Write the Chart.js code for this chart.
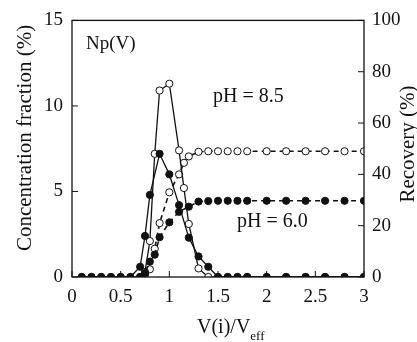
<!DOCTYPE html>
<html>
<head>
<meta charset="utf-8">
<script src="https://cdn.jsdelivr.net/npm/chart.js@4"></script>
<style>
  html, body { margin:0; padding:0; background:#fff; }
  #wrap { width:417px; height:342px; }
</style>
</head>
<body>
<div id="wrap"><canvas id="c"></canvas></div>
<script>
// tick labels
const xTicks = [0, 0.5, 1, 1.5, 2, 2.5, 3];
const concTicks = [0, 5, 10, 15];
const recTicks = [0, 20, 40, 60, 80, 100];

// concentration fraction (%), pH 6.0 (filled circles, solid)
const conc60X = [0.1,0.2,0.3,0.4,0.5,0.6,0.7,0.75,0.8,0.9,1.0,1.1,1.2,1.3,1.4,1.5,1.6,1.7,1.8,2.0,2.2,2.4,2.6,2.8,3.0];
const conc60Y = [0,0,0,0,0,0,0.6,2.4,4.8,7.2,6.0,4.2,2.3,1.2,0.6,0,0,0,0,0,0,0,0,0,0];

// concentration fraction (%), pH 8.5 (open circles, solid)
const conc85X = [0.1,0.2,0.3,0.4,0.5,0.6,0.7,0.75,0.8,0.85,0.9,1.0,1.1,1.15,1.2,1.3,1.4,1.5,1.6,1.7,1.8,2.0,2.2,2.4,2.6,2.8,3.0];
const conc85Y = [0,0,0,0,0,0,0,0.3,2.1,7.2,10.9,11.3,7.4,5.2,3.1,0.5,0,0,0,0,0,0,0,0,0,0,0];

// recovery (%), pH 6.0 (filled circles, dashed)
const rec60X = [0.7,0.75,0.8,0.85,0.9,1.0,1.1,1.2,1.3,1.4,1.5,1.6,1.7,1.8,2.0,2.2,2.4,2.6,2.8,3.0];
const rec60Y = [0,1.5,6,8.7,15.5,21.3,25.4,27.4,29.4,29.6,29.7,29.7,29.7,29.7,29.7,29.7,29.7,29.7,29.7,29.7];

// recovery (%), pH 8.5 (open circles, dashed)
const rec85X = [0.7,0.75,0.8,0.85,0.9,1.0,1.1,1.15,1.2,1.3,1.4,1.5,1.6,1.7,1.8,2.0,2.2,2.4,2.6,2.8,3.0];
const rec85Y = [0,1,3,11,21,33,40,44.5,47,48.8,49,49,49,49,49,49,49,49,49,49,49];

const FONT = '"Liberation Serif", "Times New Roman", serif';
const INK = '#111';

function pts(xs, ys){ return xs.map((x,i)=>({x, y:ys[i]})); }

function series(label, xs, ys, axis, filled, dashed){
  return {
    label,
    data: pts(xs, ys),
    yAxisID: axis,
    borderColor: INK,
    borderWidth: dashed ? 1.6 : 1.3,
    borderDash: dashed ? [5,4] : [],
    pointRadius: 3.6,
    pointBorderWidth: 1,
    pointBackgroundColor: filled ? INK : '#fff',
    pointBorderColor: INK,
    tension: 0,
    fill: false
  };
}

function setTicks(list){
  return function(scale){ scale.ticks = list.map(v=>({value:v})); };
}

// frame, inward tick marks, axis titles and the in-plot labels
const decor = {
  id:'decor',
  afterDraw(chart){
    const {ctx, chartArea:a, scales} = chart;
    ctx.save();
    ctx.strokeStyle = INK;
    ctx.lineWidth = 1.3;
    ctx.strokeRect(a.left, a.top, a.right-a.left, a.bottom-a.top);
    ctx.lineWidth = 1;
    ctx.beginPath();
    xTicks.forEach(v=>{
      const p = scales.x.getPixelForValue(v);
      ctx.moveTo(p, a.bottom); ctx.lineTo(p, a.bottom-6);
    });
    concTicks.forEach(v=>{
      const p = scales.y.getPixelForValue(v);
      ctx.moveTo(a.left, p); ctx.lineTo(a.left+6, p);
    });
    recTicks.forEach(v=>{
      const p = scales.y1.getPixelForValue(v);
      ctx.moveTo(a.right, p); ctx.lineTo(a.right-6, p);
    });
    ctx.stroke();

    ctx.fillStyle = INK;
    ctx.textBaseline = 'middle';
    ctx.font = '21px ' + FONT;
    // left title
    ctx.save();
    ctx.translate(25, 138);
    ctx.rotate(-Math.PI/2);
    ctx.textAlign = 'center';
    ctx.fillText('Concentration fraction (%)', 0, 0);
    ctx.restore();
    // right title
    ctx.save();
    ctx.translate(408, 144);
    ctx.rotate(-Math.PI/2);
    ctx.textAlign = 'center';
    ctx.fillText('Recovery (%)', 0, 0);
    ctx.restore();
    // x title with subscript
    ctx.textAlign = 'left';
    ctx.textBaseline = 'alphabetic';
    const main = 'V(i)/V';
    ctx.font = '20px ' + FONT;
    const w1 = ctx.measureText(main).width;
    ctx.fillText(main, 197, 333);
    ctx.font = '13px ' + FONT;
    ctx.fillText('eff', 197 + w1, 340);

    // labels inside the plot
    ctx.font = '19px ' + FONT;
    ctx.fillText('Np(V)', 86, 49);
    ctx.font = '20px ' + FONT;
    ctx.fillText('pH = 8.5', 213, 102);
    ctx.fillText('pH = 6.0', 237, 227);
    ctx.restore();
  }
};

const tickFont = {family: FONT, size: 19};

new Chart(document.getElementById('c'), {
  type: 'line',
  data: {
    datasets: [
      series('pH 6.0 conc', conc60X, conc60Y, 'y', true, false),
      series('pH 6.0 recovery', rec60X, rec60Y, 'y1', true, true),
      series('pH 8.5 conc', conc85X, conc85Y, 'y', false, false),
      series('pH 8.5 recovery', rec85X, rec85Y, 'y1', false, true)
    ]
  },
  options: {
    responsive: true,
    maintainAspectRatio: false,
    animation: false,
    layout: {padding: {top: 20, left: 0, right: 0, bottom: 0}},
    plugins: {legend: {display: false}, tooltip: {enabled: false}},
    scales: {
      x: {
        type: 'linear', min: 0, max: 3,
        afterBuildTicks: setTicks(xTicks),
        afterFit(s){ s.height = 65; },
        grid: {display: false, drawTicks: false},
        border: {display: false},
        ticks: {color: INK, font: tickFont, padding: 9, maxRotation: 0, autoSkip: false,
                callback: v => String(v)}
      },
      y: {
        position: 'left', min: 0, max: 15,
        afterBuildTicks: setTicks(concTicks),
        afterFit(s){ s.width = 72; },
        grid: {display: false, drawTicks: false},
        border: {display: false},
        ticks: {color: INK, font: tickFont, padding: 9}
      },
      y1: {
        position: 'right', min: 0, max: 100,
        afterBuildTicks: setTicks(recTicks),
        afterFit(s){ s.width = 53; },
        grid: {display: false, drawTicks: false},
        border: {display: false},
        ticks: {color: INK, font: tickFont, padding: 8}
      }
    }
  },
  plugins: [decor]
});
</script>
</body>
</html>
